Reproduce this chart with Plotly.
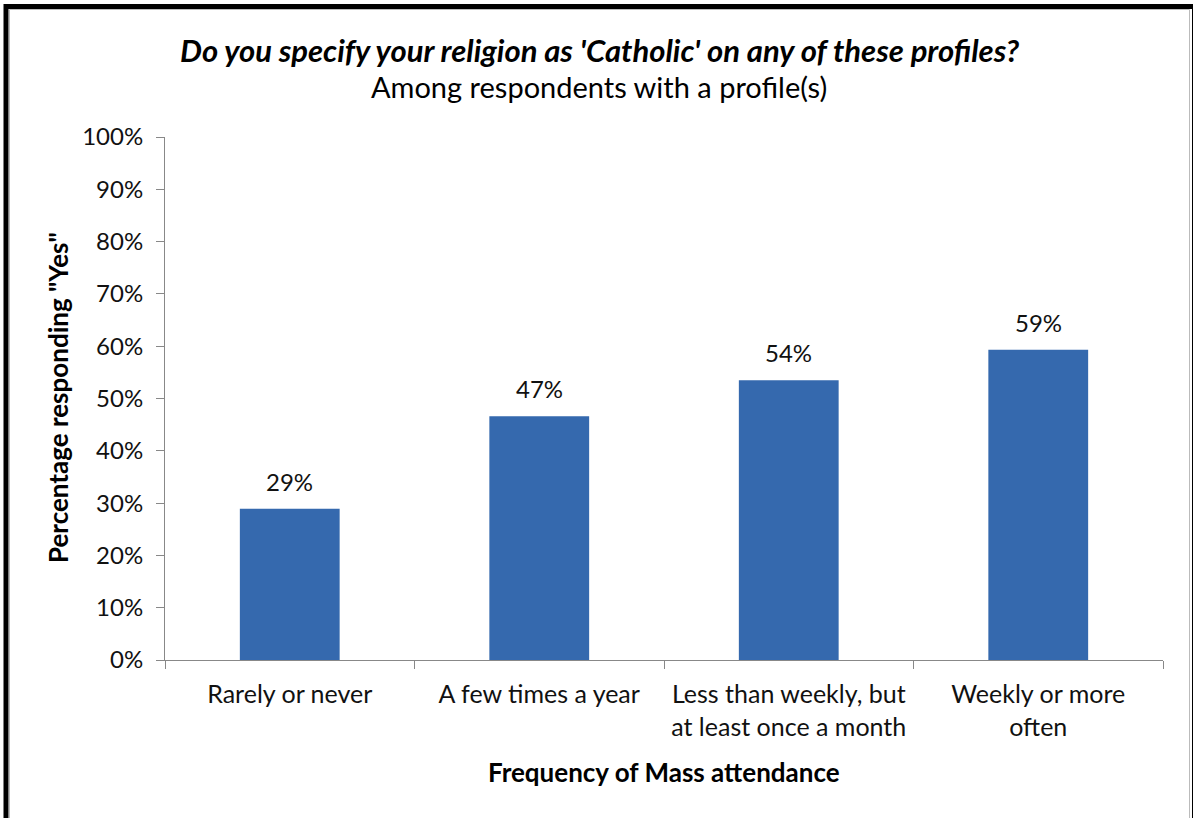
import plotly.graph_objects as go

# ---- data ----
categories = [
    "Rarely or never",
    "A few times a year",
    "Less than weekly, but<br>at least once a month",
    "Weekly or more<br>often",
]
values = [28.9, 46.6, 53.5, 59.3]
value_labels = ["29%", "47%", "54%", "59%"]
y_ticks = [0, 10, 20, 30, 40, 50, 60, 70, 80, 90, 100]
y_tick_text = [f"{t}%" for t in y_ticks]

title_main = "Do you specify your religion as 'Catholic' on any of these profiles?"
title_sub = "Among respondents with a profile(s)"
x_title = "Frequency of Mass attendance"
y_title = 'Percentage responding "Yes"'

# ---- geometry ----
W, H = 1193, 818
ML, MR, MT, MB = 165, 30, 137, 158
PW, PH = W - ML - MR, H - MT - MB

def px(x):
    return (x - ML) / PW

def py(y):
    return (H - MB - y) / PH

FONT = "Lato, 'Open Sans', sans-serif"
AXIS_COLOR = "#888888"

fig = go.Figure(
    go.Bar(
        x=categories,
        y=values,
        width=0.4,
        marker=dict(color="#3569AE", line=dict(width=0)),
        hoverinfo="x+y",
    )
)

annotations = []
for c, v, t in zip(categories, values, value_labels):
    annotations.append(dict(
        x=c, y=v, xref="x", yref="y", text=t, showarrow=False,
        yanchor="bottom", yshift=11,
        font=dict(family=FONT, size=24, color="#111111"),
    ))

annotations += [
    dict(x=px(600), y=py(50), xref="paper", yref="paper",
         text=f"<b><i>{title_main}</i></b>", showarrow=False,
         xanchor="center", yanchor="middle",
         font=dict(family=FONT, size=31, color="black")),
    dict(x=px(599), y=py(87), xref="paper", yref="paper",
         text=title_sub, showarrow=False,
         xanchor="center", yanchor="middle",
         font=dict(family=FONT, size=29, color="black")),
    dict(x=px(664), y=py(772), xref="paper", yref="paper",
         text=f"<b>{x_title}</b>", showarrow=False,
         xanchor="center", yanchor="middle",
         font=dict(family=FONT, size=26, color="black")),
    dict(x=px(58), y=py(398), xref="paper", yref="paper",
         text=f"<b>{y_title}</b>", showarrow=False, textangle=-90,
         xanchor="center", yanchor="middle",
         font=dict(family=FONT, size=26, color="black")),
]

shapes = [
    # outer black frame
    dict(type="rect", xref="paper", yref="paper",
         x0=px(6), x1=px(1194.5), y0=py(840), y1=py(6.5),
         line=dict(color="black", width=5), fillcolor="rgba(0,0,0,0)", layer="above"),
    # thin gray inner line
    dict(type="rect", xref="paper", yref="paper",
         x0=px(9.5), x1=px(1189.5), y0=py(840), y1=py(9.5),
         line=dict(color="#BBBBBB", width=1), fillcolor="rgba(0,0,0,0)", layer="above"),
]

fig.update_layout(
    width=W, height=H,
    margin=dict(l=ML, r=MR, t=MT, b=MB, pad=0),
    paper_bgcolor="white", plot_bgcolor="white",
    showlegend=False,
    font=dict(family=FONT, size=22, color="black"),
    annotations=annotations,
    shapes=shapes,
    xaxis=dict(
        showline=True, linecolor=AXIS_COLOR, linewidth=1,
        ticks="outside", tickson="boundaries", ticklen=8, tickcolor=AXIS_COLOR,
        showgrid=False, zeroline=False, ticklabelstandoff=12,
        tickfont=dict(family=FONT, size=25, color="#111111"),
    ),
    yaxis=dict(
        range=[0, 100], tickvals=y_ticks, ticktext=y_tick_text,
        showline=True, linecolor=AXIS_COLOR, linewidth=1,
        ticks="outside", ticklen=8, tickcolor=AXIS_COLOR,
        showgrid=False, zeroline=False, ticklabelstandoff=8,
        tickfont=dict(family=FONT, size=24, color="#111111"),
    ),
)

fig.write_html("out.html")
